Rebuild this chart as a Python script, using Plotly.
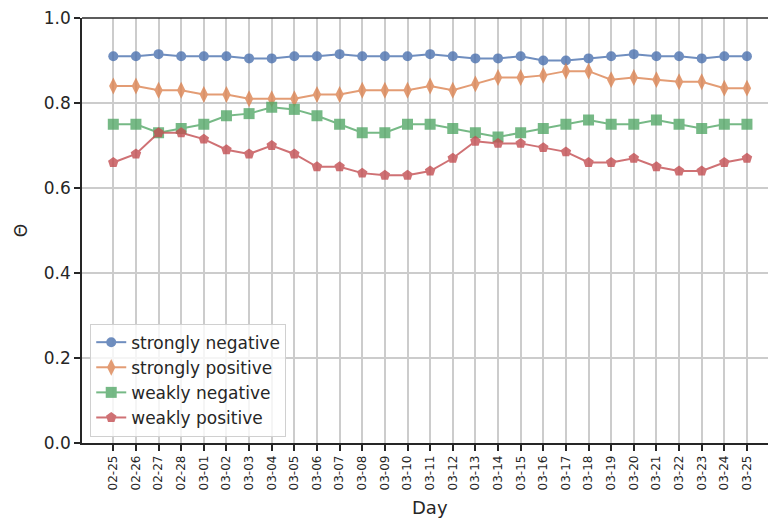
import plotly.graph_objects as go

days = ["02-25", "02-26", "02-27", "02-28", "03-01", "03-02", "03-03", "03-04",
        "03-05", "03-06", "03-07", "03-08", "03-09", "03-10", "03-11", "03-12",
        "03-13", "03-14", "03-15", "03-16", "03-17", "03-18", "03-19", "03-20",
        "03-21", "03-22", "03-23", "03-24", "03-25"]

strongly_negative = [0.91, 0.91, 0.915, 0.91, 0.91, 0.91, 0.905, 0.905, 0.91, 0.91,
                     0.915, 0.91, 0.91, 0.91, 0.915, 0.91, 0.905, 0.905, 0.91, 0.90,
                     0.90, 0.905, 0.91, 0.915, 0.91, 0.91, 0.905, 0.91, 0.91]
strongly_positive = [0.84, 0.84, 0.83, 0.83, 0.82, 0.82, 0.81, 0.81, 0.81, 0.82,
                     0.82, 0.83, 0.83, 0.83, 0.84, 0.83, 0.845, 0.86, 0.86, 0.865,
                     0.875, 0.875, 0.855, 0.86, 0.855, 0.85, 0.85, 0.835, 0.835]
weakly_negative = [0.75, 0.75, 0.73, 0.74, 0.75, 0.77, 0.775, 0.79, 0.785, 0.77,
                   0.75, 0.73, 0.73, 0.75, 0.75, 0.74, 0.73, 0.72, 0.73, 0.74,
                   0.75, 0.76, 0.75, 0.75, 0.76, 0.75, 0.74, 0.75, 0.75]
weakly_positive = [0.66, 0.68, 0.73, 0.73, 0.715, 0.69, 0.68, 0.70, 0.68, 0.65,
                   0.65, 0.635, 0.63, 0.63, 0.64, 0.67, 0.71, 0.705, 0.705, 0.695,
                   0.685, 0.66, 0.66, 0.67, 0.65, 0.64, 0.64, 0.66, 0.67]

series = [
    ("strongly negative", strongly_negative, "#4c72b0", "circle", 10),
    ("strongly positive", strongly_positive, "#dd8452", "diamond-tall", 12),
    ("weakly negative", weakly_negative, "#55a868", "square", 11),
    ("weakly positive", weakly_positive, "#c44e52", "pentagon", 11),
]

FONT = "DejaVu Sans"
INK = "#262626"

fig = go.Figure()
for i, (name, vals, color, symbol, size) in enumerate(series):
    fig.add_trace(go.Scatter(
        x=days, y=vals, name=name, mode="lines+markers",
        line=dict(color=color, width=2),
        marker=dict(symbol=symbol, size=size, color=color, line=dict(width=0)),
        opacity=0.8, legendgroup=f"g{i}",
    ))

fig.update_layout(
    template="none",
    width=768, height=521,
    margin=dict(l=82, r=0, t=18, b=78, pad=0),
    paper_bgcolor="white", plot_bgcolor="white",
    font=dict(family=FONT, color=INK, size=17),
    showlegend=True,
    legend=dict(
        x=0.012, y=0.015, xanchor="left", yanchor="bottom",
        bgcolor="rgba(255,255,255,0.8)", bordercolor="#d0d0d0", borderwidth=1,
        font=dict(family=FONT, size=17, color=INK),
        tracegroupgap=0, traceorder="grouped",
    ),
    annotations=[dict(
        text="Day", xref="paper", yref="paper", x=0.507, y=0,
        yshift=-64, xanchor="center", yanchor="middle", showarrow=False,
        font=dict(family=FONT, size=18, color=INK),
    )],
    # top spine only (the axes box is open on the right)
    shapes=[dict(type="line", xref="paper", yref="paper", x0=0, x1=1, y0=1, y1=1,
                 line=dict(color=INK, width=1.5), layer="above")],
)

fig.update_xaxes(
    type="category", categoryorder="array", categoryarray=days,
    range=[-1.383, 28.93],
    showgrid=True, gridcolor="#cccccc", gridwidth=1.5,
    showline=True, linecolor=INK, linewidth=1.5, mirror=False,
    ticks="outside", ticklen=6, tickwidth=1.5, tickcolor=INK,
    tickangle=-90, tickfont=dict(family=FONT, size=12, color=INK),
    zeroline=False,
)
fig.update_yaxes(
    range=[0, 1], tickvals=[0, 0.2, 0.4, 0.6, 0.8, 1.0],
    ticktext=["0.0", "0.2", "0.4", "0.6", "0.8", "1.0"],
    showgrid=True, gridcolor="#cccccc", gridwidth=1.5,
    showline=True, linecolor=INK, linewidth=1.5, mirror=False,
    ticks="outside", ticklen=6, tickwidth=1.5, tickcolor=INK,
    tickfont=dict(family=FONT, size=17, color=INK),
    title=dict(text="Θ", font=dict(family=FONT, size=17, color=INK), standoff=12),
    zeroline=False,
)

fig.write_html("out.html")
